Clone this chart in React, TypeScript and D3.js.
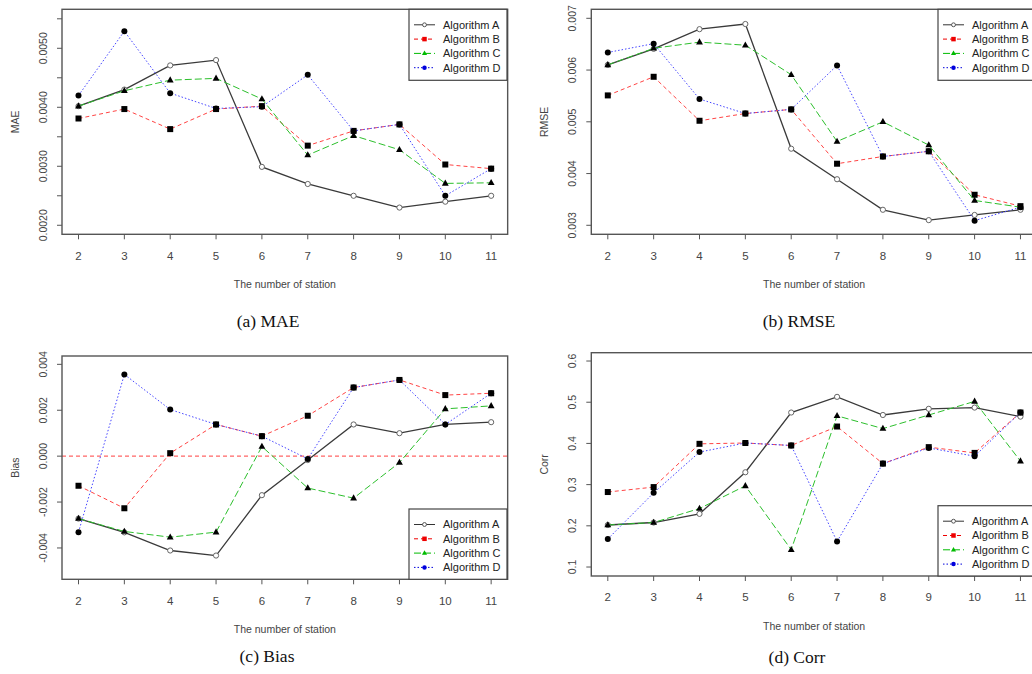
import React from "react";
import * as d3 from "d3";

const stations = [2, 3, 4, 5, 6, 7, 8, 9, 10, 11];
const seriesNames = ["Algorithm A", "Algorithm B", "Algorithm C", "Algorithm D"];

const maeA = [0.00402, 0.00430, 0.00471, 0.00480, 0.00299, 0.00270, 0.00250, 0.00230, 0.00240, 0.00250];
const maeB = [0.00381, 0.00397, 0.00363, 0.00397, 0.00402, 0.00335, 0.00360, 0.00371, 0.00303, 0.00296];
const maeC = [0.00402, 0.00428, 0.00446, 0.00449, 0.00414, 0.00319, 0.00352, 0.00328, 0.00271, 0.00272];
const maeD = [0.00420, 0.00529, 0.00424, 0.00398, 0.00401, 0.00455, 0.00360, 0.00371, 0.00250, 0.00296];

const rmseA = [0.00610, 0.00641, 0.00679, 0.00689, 0.00448, 0.00389, 0.00330, 0.00310, 0.00320, 0.00330];
const rmseB = [0.00551, 0.00587, 0.00502, 0.00516, 0.00524, 0.00419, 0.00433, 0.00443, 0.00359, 0.00337];
const rmseC = [0.00610, 0.00642, 0.00654, 0.00648, 0.00591, 0.00462, 0.00500, 0.00455, 0.00348, 0.00335];
const rmseD = [0.00634, 0.00651, 0.00544, 0.00516, 0.00524, 0.00609, 0.00433, 0.00443, 0.00309, 0.00335];

const biasA = [-0.00272, -0.00332, -0.00411, -0.00433, -0.00170, -0.00017, 0.00138, 0.00100, 0.00138, 0.00148];
const biasB = [-0.00129, -0.00227, 0.00013, 0.00138, 0.00087, 0.00176, 0.00299, 0.00332, 0.00266, 0.00274];
const biasC = [-0.00272, -0.00328, -0.00353, -0.00331, 0.00042, -0.00139, -0.00183, -0.00028, 0.00206, 0.00219];
const biasD = [-0.00331, 0.00356, 0.00203, 0.00138, 0.00087, -0.00012, 0.00299, 0.00332, 0.00138, 0.00274];

const corrA = [0.202, 0.208, 0.229, 0.330, 0.475, 0.513, 0.469, 0.484, 0.487, 0.465];
const corrB = [0.282, 0.294, 0.399, 0.401, 0.395, 0.441, 0.351, 0.391, 0.377, 0.475];
const corrC = [0.202, 0.208, 0.242, 0.297, 0.142, 0.467, 0.436, 0.469, 0.502, 0.357];
const corrD = [0.168, 0.280, 0.379, 0.401, 0.395, 0.162, 0.351, 0.389, 0.369, 0.475];

const maeTicks = [0.002, 0.0025, 0.003, 0.0035, 0.004, 0.0045, 0.005, 0.0055];
const maeLabels = ["0.0020", "", "0.0030", "", "0.0040", "", "0.0050", ""];
const rmseTicks = [0.003, 0.004, 0.005, 0.006, 0.007];
const rmseLabels = ["0.003", "0.004", "0.005", "0.006", "0.007"];
const biasTicks = [-0.004, -0.002, 0, 0.002, 0.004];
const biasLabels = ["-0.004", "-0.002", "0.000", "0.002", "0.004"];
const corrTicks = [0.1, 0.2, 0.3, 0.4, 0.5, 0.6];
const corrLabels = ["0.1", "0.2", "0.3", "0.4", "0.5", "0.6"];

const lineColors = ["#3a3a3a", "#f44", "#2cbf2c", "#44f"];
const legendColors = ["#555", "#e00", "#0b0", "#00d"];
const dashes = ["none", "4,3", "7,3", "1.5,2"];

const SANS = "'Liberation Sans', Arial, Helvetica, sans-serif";
const SERIF = "'Liberation Serif', 'Times New Roman', serif";

type PanelProps = {
  left: number;
  top: number;
  bottom: number;
  yDomain: [number, number];
  ticks: number[];
  labels: string[];
  ylabel: string;
  series: number[][];
  xLabelY: number;
  titleY: number;
  legend: { x: number; y: number; w: number; h: number };
  zeroLine?: boolean;
};

function Marker({ kind, x, y, color, s = 1 }: { kind: number; x: number; y: number; color: string; s?: number }) {
  if (kind === 0) return <circle cx={x} cy={y} r={2.6 * s} fill="#fff" stroke={color} strokeWidth={1} />;
  if (kind === 1) return <rect x={x - 3 * s} y={y - 3 * s} width={6 * s} height={6 * s} fill={color} />;
  if (kind === 2) {
    const r = 3.8 * s;
    return <path d={`M${x},${y - r}L${x + r * 0.9},${y + r * 0.6}L${x - r * 0.9},${y + r * 0.6}Z`} fill={color} />;
  }
  return <circle cx={x} cy={y} r={3 * s} fill={color} />;
}

function Panel(p: PanelProps) {
  const unit = 45.85;
  const x = d3.scaleLinear().domain([1.64, 11.36]).range([p.left, p.left + 9.72 * unit]);
  const y = d3.scaleLinear().domain(p.yDomain).range([p.bottom, p.top]);
  const right = x(11.36);
  const line = d3
    .line<number>()
    .x((_, i) => x(stations[i]))
    .y((d) => y(d));
  const midY = (p.top + p.bottom) / 2;
  return (
    <g>
      {p.zeroLine && (
        <line x1={p.left} x2={right} y1={y(0)} y2={y(0)} stroke="#f66" strokeWidth={1.4} strokeDasharray="4,3" />
      )}
      {p.series.map((s, k) => (
        <g key={k}>
          <path d={line(s) || ""} fill="none" stroke={lineColors[k]} strokeWidth={k === 0 ? 1.3 : 1} strokeDasharray={dashes[k]} />
          {s.map((v, i) => (
            <Marker key={i} kind={k} x={x(stations[i])} y={y(v)} color={k === 0 ? "#666" : "#000"} />
          ))}
        </g>
      ))}
      <rect x={p.left} y={p.top} width={right - p.left} height={p.bottom - p.top} fill="none" stroke="#555" strokeWidth={1.4} />
      {p.ticks.map((t, i) => (
        <g key={i}>
          <line x1={p.left - 5} x2={p.left} y1={y(t)} y2={y(t)} stroke="#555" />
          {p.labels[i] && (
            <text
              transform={`translate(${p.left - 19},${y(t)}) rotate(-90)`}
              dy="0.35em"
              textAnchor="middle"
              fontSize={10.5}
              fill="#444"
              fontFamily={SANS}
            >
              {p.labels[i]}
            </text>
          )}
        </g>
      ))}
      {stations.map((s) => (
        <g key={s}>
          <line x1={x(s)} x2={x(s)} y1={p.bottom} y2={p.bottom + 5} stroke="#555" />
          <text x={x(s)} y={p.xLabelY} dy="0.35em" textAnchor="middle" fontSize={11.5} fill="#444" fontFamily={SANS}>
            {s}
          </text>
        </g>
      ))}
      <text x={(x(2) + x(11)) / 2} y={p.titleY} dy="0.35em" textAnchor="middle" fontSize={10.5} fill="#444" fontFamily={SANS}>
        The number of station
      </text>
      <text
        transform={`translate(${p.left - 47},${midY}) rotate(-90)`}
        dy="0.35em"
        textAnchor="middle"
        fontSize={10.5}
        fill="#444"
        fontFamily={SANS}
      >
        {p.ylabel}
      </text>
      <rect x={p.legend.x} y={p.legend.y} width={p.legend.w} height={p.legend.h} fill="#fff" stroke="#444" strokeWidth={1.2} />
      {seriesNames.map((n, k) => {
        const ly = p.legend.y + 15.5 + k * 14.3;
        const lx = p.legend.x + 5;
        return (
          <g key={n}>
            <line x1={lx} x2={lx + 21} y1={ly} y2={ly} stroke={k === 0 ? "#333" : legendColors[k]} strokeWidth={1} strokeDasharray={dashes[k]} />
            <Marker kind={k} x={lx + 10.5} y={ly} color={legendColors[k]} s={0.75} />
            <text x={lx + 29} y={ly} dy="0.35em" fontSize={11} fill="#222" fontFamily={SANS}>
              {n}
            </text>
          </g>
        );
      })}
    </g>
  );
}

export default function App() {
  return (
    <div style={{ position: "absolute", left: 0, top: 0 }}>
      <svg width={1032} height={674} style={{ display: "block", background: "#fff" }}>
        <Panel
          left={62}
          top={9.3}
          bottom={234.3}
          yDomain={[0.001847, 0.005661]}
          ticks={maeTicks}
          labels={maeLabels}
          ylabel="MAE"
          series={[maeA, maeB, maeC, maeD]}
          xLabelY={256}
          titleY={284}
          legend={{ x: 409, y: 9.3, w: 98, h: 71 }}
        />
        <Panel
          left={591.3}
          top={9.3}
          bottom={234.3}
          yDomain={[0.002826, 0.007174]}
          ticks={rmseTicks}
          labels={rmseLabels}
          ylabel="RMSE"
          series={[rmseA, rmseB, rmseC, rmseD]}
          xLabelY={256}
          titleY={284}
          legend={{ x: 938, y: 9.3, w: 110, h: 71 }}
        />
        <Panel
          left={62}
          top={356}
          bottom={579.3}
          yDomain={[-0.005365, 0.004363]}
          ticks={biasTicks}
          labels={biasLabels}
          ylabel="Bias"
          series={[biasA, biasB, biasC, biasD]}
          xLabelY={601}
          titleY={629}
          legend={{ x: 409, y: 509, w: 98, h: 70.3 }}
          zeroLine
        />
        <Panel
          left={591.3}
          top={352.7}
          bottom={576}
          yDomain={[0.0782, 0.6202]}
          ticks={corrTicks}
          labels={corrLabels}
          ylabel="Corr"
          series={[corrA, corrB, corrC, corrD]}
          xLabelY={597}
          titleY={626}
          legend={{ x: 938, y: 505.7, w: 110, h: 70.3 }}
        />
        <text x={268} y={327} textAnchor="middle" fontSize={17.5} fill="#111" fontFamily={SERIF}>(a) MAE</text>
        <text x={799} y={327} textAnchor="middle" fontSize={17.5} fill="#111" fontFamily={SERIF}>(b) RMSE</text>
        <text x={267} y={662} textAnchor="middle" fontSize={17.5} fill="#111" fontFamily={SERIF}>(c) Bias</text>
        <text x={797} y={663} textAnchor="middle" fontSize={17.5} fill="#111" fontFamily={SERIF}>(d) Corr</text>
      </svg>
    </div>
  );
}
